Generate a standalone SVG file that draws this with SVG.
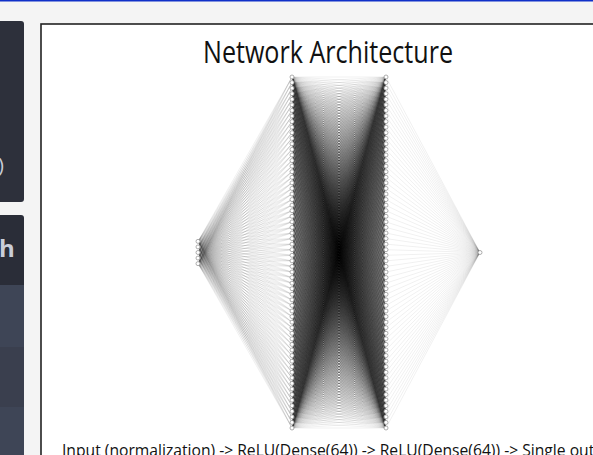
<svg xmlns="http://www.w3.org/2000/svg" xmlns:xlink="http://www.w3.org/1999/xlink" width="593" height="455" viewBox="0 0 593 455">
<style>
.ed{fill:none;stroke:#000;stroke-opacity:0.11;stroke-width:0.55;vector-effect:non-scaling-stroke}
.nd circle{fill:#fff;stroke:#999;stroke-width:0.8}
.t{font-family:"Open Sans","Noto Sans","Liberation Sans",sans-serif;fill:#111}
.side{font-family:"Open Sans","Liberation Sans",sans-serif;fill:#c9cdd8}
</style>
<defs>
<path id="fan" class="ed" d="M0 0L94 0M0 0L94 5.57M0 0L94 11.14M0 0L94 16.71M0 0L94 22.29M0 0L94 27.86M0 0L94 33.43M0 0L94 39M0 0L94 44.57M0 0L94 50.14M0 0L94 55.71M0 0L94 61.29M0 0L94 66.86M0 0L94 72.43M0 0L94 78M0 0L94 83.57M0 0L94 89.14M0 0L94 94.71M0 0L94 100.29M0 0L94 105.86M0 0L94 111.43M0 0L94 117M0 0L94 122.57M0 0L94 128.14M0 0L94 133.71M0 0L94 139.29M0 0L94 144.86M0 0L94 150.43M0 0L94 156M0 0L94 161.57M0 0L94 167.14M0 0L94 172.71M0 0L94 178.29M0 0L94 183.86M0 0L94 189.43M0 0L94 195M0 0L94 200.57M0 0L94 206.14M0 0L94 211.71M0 0L94 217.29M0 0L94 222.86M0 0L94 228.43M0 0L94 234M0 0L94 239.57M0 0L94 245.14M0 0L94 250.71M0 0L94 256.29M0 0L94 261.86M0 0L94 267.43M0 0L94 273M0 0L94 278.57M0 0L94 284.14M0 0L94 289.71M0 0L94 295.29M0 0L94 300.86M0 0L94 306.43M0 0L94 312M0 0L94 317.57M0 0L94 323.14M0 0L94 328.71M0 0L94 334.29M0 0L94 339.86M0 0L94 345.43M0 0L94 351"/>
</defs>
<rect x="0" y="0" width="593" height="455" fill="#f4f4f4"/>
<rect x="0" y="0" width="593" height="1.5" fill="#1030c8"/>
<rect x="-6" y="21" width="30" height="181" rx="3" fill="#2d303b"/>
<text class="side" x="-2" y="172" font-size="20">)</text>
<rect x="-6" y="215" width="30" height="250" rx="3" fill="#2a2d38"/>
<rect x="-6" y="285" width="30" height="62" fill="#3e4556"/>
<rect x="-6" y="347" width="30" height="60" fill="#3a3f4e"/>
<rect x="-6" y="407" width="30" height="50" fill="#3e4556"/>
<text class="side" x="-1" y="257" font-size="24" font-weight="bold" fill="#d6d9e3">h</text>
<rect x="41" y="24" width="600" height="500" fill="#fff" stroke="#222" stroke-width="1.6"/>
<text class="t" x="328" y="63" font-size="31" text-anchor="middle" textLength="250" lengthAdjust="spacingAndGlyphs">Network Architecture</text>
<g id="connectors">
<g id="input-hidden1">
<use href="#fan" transform="matrix(1,-1.7485,0,1,198,241.36)"/>
<use href="#fan" transform="matrix(1,-1.8078,0,1,198,246.93)"/>
<use href="#fan" transform="matrix(1,-1.8670,0,1,198,252.5)"/>
<use href="#fan" transform="matrix(1,-1.9263,0,1,198,258.07)"/>
<use href="#fan" transform="matrix(1,-1.9856,0,1,198,263.64)"/>
</g>
<g id="hidden1-hidden2">
<use href="#fan" transform="matrix(1,0,0,1,292,77)"/>
<use href="#fan" transform="matrix(1,-0.0593,0,1,292,82.57)"/>
<use href="#fan" transform="matrix(1,-0.1185,0,1,292,88.14)"/>
<use href="#fan" transform="matrix(1,-0.1778,0,1,292,93.71)"/>
<use href="#fan" transform="matrix(1,-0.2371,0,1,292,99.29)"/>
<use href="#fan" transform="matrix(1,-0.2964,0,1,292,104.86)"/>
<use href="#fan" transform="matrix(1,-0.3556,0,1,292,110.43)"/>
<use href="#fan" transform="matrix(1,-0.4149,0,1,292,116)"/>
<use href="#fan" transform="matrix(1,-0.4742,0,1,292,121.57)"/>
<use href="#fan" transform="matrix(1,-0.5334,0,1,292,127.14)"/>
<use href="#fan" transform="matrix(1,-0.5927,0,1,292,132.71)"/>
<use href="#fan" transform="matrix(1,-0.6520,0,1,292,138.29)"/>
<use href="#fan" transform="matrix(1,-0.7112,0,1,292,143.86)"/>
<use href="#fan" transform="matrix(1,-0.7705,0,1,292,149.43)"/>
<use href="#fan" transform="matrix(1,-0.8298,0,1,292,155)"/>
<use href="#fan" transform="matrix(1,-0.8891,0,1,292,160.57)"/>
<use href="#fan" transform="matrix(1,-0.9483,0,1,292,166.14)"/>
<use href="#fan" transform="matrix(1,-1.0076,0,1,292,171.71)"/>
<use href="#fan" transform="matrix(1,-1.0669,0,1,292,177.29)"/>
<use href="#fan" transform="matrix(1,-1.1261,0,1,292,182.86)"/>
<use href="#fan" transform="matrix(1,-1.1854,0,1,292,188.43)"/>
<use href="#fan" transform="matrix(1,-1.2447,0,1,292,194)"/>
<use href="#fan" transform="matrix(1,-1.3040,0,1,292,199.57)"/>
<use href="#fan" transform="matrix(1,-1.3632,0,1,292,205.14)"/>
<use href="#fan" transform="matrix(1,-1.4225,0,1,292,210.71)"/>
<use href="#fan" transform="matrix(1,-1.4818,0,1,292,216.29)"/>
<use href="#fan" transform="matrix(1,-1.5410,0,1,292,221.86)"/>
<use href="#fan" transform="matrix(1,-1.6003,0,1,292,227.43)"/>
<use href="#fan" transform="matrix(1,-1.6596,0,1,292,233)"/>
<use href="#fan" transform="matrix(1,-1.7188,0,1,292,238.57)"/>
<use href="#fan" transform="matrix(1,-1.7781,0,1,292,244.14)"/>
<use href="#fan" transform="matrix(1,-1.8374,0,1,292,249.71)"/>
<use href="#fan" transform="matrix(1,-1.8967,0,1,292,255.29)"/>
<use href="#fan" transform="matrix(1,-1.9559,0,1,292,260.86)"/>
<use href="#fan" transform="matrix(1,-2.0152,0,1,292,266.43)"/>
<use href="#fan" transform="matrix(1,-2.0745,0,1,292,272)"/>
<use href="#fan" transform="matrix(1,-2.1337,0,1,292,277.57)"/>
<use href="#fan" transform="matrix(1,-2.1930,0,1,292,283.14)"/>
<use href="#fan" transform="matrix(1,-2.2523,0,1,292,288.71)"/>
<use href="#fan" transform="matrix(1,-2.3115,0,1,292,294.29)"/>
<use href="#fan" transform="matrix(1,-2.3708,0,1,292,299.86)"/>
<use href="#fan" transform="matrix(1,-2.4301,0,1,292,305.43)"/>
<use href="#fan" transform="matrix(1,-2.4894,0,1,292,311)"/>
<use href="#fan" transform="matrix(1,-2.5486,0,1,292,316.57)"/>
<use href="#fan" transform="matrix(1,-2.6079,0,1,292,322.14)"/>
<use href="#fan" transform="matrix(1,-2.6672,0,1,292,327.71)"/>
<use href="#fan" transform="matrix(1,-2.7264,0,1,292,333.29)"/>
<use href="#fan" transform="matrix(1,-2.7857,0,1,292,338.86)"/>
<use href="#fan" transform="matrix(1,-2.8450,0,1,292,344.43)"/>
<use href="#fan" transform="matrix(1,-2.9043,0,1,292,350)"/>
<use href="#fan" transform="matrix(1,-2.9635,0,1,292,355.57)"/>
<use href="#fan" transform="matrix(1,-3.0228,0,1,292,361.14)"/>
<use href="#fan" transform="matrix(1,-3.0821,0,1,292,366.71)"/>
<use href="#fan" transform="matrix(1,-3.1413,0,1,292,372.29)"/>
<use href="#fan" transform="matrix(1,-3.2006,0,1,292,377.86)"/>
<use href="#fan" transform="matrix(1,-3.2599,0,1,292,383.43)"/>
<use href="#fan" transform="matrix(1,-3.3191,0,1,292,389)"/>
<use href="#fan" transform="matrix(1,-3.3784,0,1,292,394.57)"/>
<use href="#fan" transform="matrix(1,-3.4377,0,1,292,400.14)"/>
<use href="#fan" transform="matrix(1,-3.4970,0,1,292,405.71)"/>
<use href="#fan" transform="matrix(1,-3.5562,0,1,292,411.29)"/>
<use href="#fan" transform="matrix(1,-3.6155,0,1,292,416.86)"/>
<use href="#fan" transform="matrix(1,-3.6748,0,1,292,422.43)"/>
<use href="#fan" transform="matrix(1,-3.7340,0,1,292,428)"/>
</g>
<g id="hidden2-output">
<use href="#fan" transform="matrix(-1,-1.8670,0,1,480,252.5)"/>
</g>
</g>
<g id="input-layer" class="nd">
<g id="in0"><circle cx="198" cy="241.36" r="2"/></g>
<g id="in1"><circle cx="198" cy="246.93" r="2"/></g>
<g id="in2"><circle cx="198" cy="252.5" r="2"/></g>
<g id="in3"><circle cx="198" cy="258.07" r="2"/></g>
<g id="in4"><circle cx="198" cy="263.64" r="2"/></g>
</g>
<g id="hidden1-layer" class="nd">
<g id="a0"><circle cx="292" cy="77" r="2"/></g>
<g id="a1"><circle cx="292" cy="82.57" r="2"/></g>
<g id="a2"><circle cx="292" cy="88.14" r="2"/></g>
<g id="a3"><circle cx="292" cy="93.71" r="2"/></g>
<g id="a4"><circle cx="292" cy="99.29" r="2"/></g>
<g id="a5"><circle cx="292" cy="104.86" r="2"/></g>
<g id="a6"><circle cx="292" cy="110.43" r="2"/></g>
<g id="a7"><circle cx="292" cy="116" r="2"/></g>
<g id="a8"><circle cx="292" cy="121.57" r="2"/></g>
<g id="a9"><circle cx="292" cy="127.14" r="2"/></g>
<g id="a10"><circle cx="292" cy="132.71" r="2"/></g>
<g id="a11"><circle cx="292" cy="138.29" r="2"/></g>
<g id="a12"><circle cx="292" cy="143.86" r="2"/></g>
<g id="a13"><circle cx="292" cy="149.43" r="2"/></g>
<g id="a14"><circle cx="292" cy="155" r="2"/></g>
<g id="a15"><circle cx="292" cy="160.57" r="2"/></g>
<g id="a16"><circle cx="292" cy="166.14" r="2"/></g>
<g id="a17"><circle cx="292" cy="171.71" r="2"/></g>
<g id="a18"><circle cx="292" cy="177.29" r="2"/></g>
<g id="a19"><circle cx="292" cy="182.86" r="2"/></g>
<g id="a20"><circle cx="292" cy="188.43" r="2"/></g>
<g id="a21"><circle cx="292" cy="194" r="2"/></g>
<g id="a22"><circle cx="292" cy="199.57" r="2"/></g>
<g id="a23"><circle cx="292" cy="205.14" r="2"/></g>
<g id="a24"><circle cx="292" cy="210.71" r="2"/></g>
<g id="a25"><circle cx="292" cy="216.29" r="2"/></g>
<g id="a26"><circle cx="292" cy="221.86" r="2"/></g>
<g id="a27"><circle cx="292" cy="227.43" r="2"/></g>
<g id="a28"><circle cx="292" cy="233" r="2"/></g>
<g id="a29"><circle cx="292" cy="238.57" r="2"/></g>
<g id="a30"><circle cx="292" cy="244.14" r="2"/></g>
<g id="a31"><circle cx="292" cy="249.71" r="2"/></g>
<g id="a32"><circle cx="292" cy="255.29" r="2"/></g>
<g id="a33"><circle cx="292" cy="260.86" r="2"/></g>
<g id="a34"><circle cx="292" cy="266.43" r="2"/></g>
<g id="a35"><circle cx="292" cy="272" r="2"/></g>
<g id="a36"><circle cx="292" cy="277.57" r="2"/></g>
<g id="a37"><circle cx="292" cy="283.14" r="2"/></g>
<g id="a38"><circle cx="292" cy="288.71" r="2"/></g>
<g id="a39"><circle cx="292" cy="294.29" r="2"/></g>
<g id="a40"><circle cx="292" cy="299.86" r="2"/></g>
<g id="a41"><circle cx="292" cy="305.43" r="2"/></g>
<g id="a42"><circle cx="292" cy="311" r="2"/></g>
<g id="a43"><circle cx="292" cy="316.57" r="2"/></g>
<g id="a44"><circle cx="292" cy="322.14" r="2"/></g>
<g id="a45"><circle cx="292" cy="327.71" r="2"/></g>
<g id="a46"><circle cx="292" cy="333.29" r="2"/></g>
<g id="a47"><circle cx="292" cy="338.86" r="2"/></g>
<g id="a48"><circle cx="292" cy="344.43" r="2"/></g>
<g id="a49"><circle cx="292" cy="350" r="2"/></g>
<g id="a50"><circle cx="292" cy="355.57" r="2"/></g>
<g id="a51"><circle cx="292" cy="361.14" r="2"/></g>
<g id="a52"><circle cx="292" cy="366.71" r="2"/></g>
<g id="a53"><circle cx="292" cy="372.29" r="2"/></g>
<g id="a54"><circle cx="292" cy="377.86" r="2"/></g>
<g id="a55"><circle cx="292" cy="383.43" r="2"/></g>
<g id="a56"><circle cx="292" cy="389" r="2"/></g>
<g id="a57"><circle cx="292" cy="394.57" r="2"/></g>
<g id="a58"><circle cx="292" cy="400.14" r="2"/></g>
<g id="a59"><circle cx="292" cy="405.71" r="2"/></g>
<g id="a60"><circle cx="292" cy="411.29" r="2"/></g>
<g id="a61"><circle cx="292" cy="416.86" r="2"/></g>
<g id="a62"><circle cx="292" cy="422.43" r="2"/></g>
<g id="a63"><circle cx="292" cy="428" r="2"/></g>
</g>
<g id="hidden2-layer" class="nd">
<g id="b0"><circle cx="386" cy="77" r="2"/></g>
<g id="b1"><circle cx="386" cy="82.57" r="2"/></g>
<g id="b2"><circle cx="386" cy="88.14" r="2"/></g>
<g id="b3"><circle cx="386" cy="93.71" r="2"/></g>
<g id="b4"><circle cx="386" cy="99.29" r="2"/></g>
<g id="b5"><circle cx="386" cy="104.86" r="2"/></g>
<g id="b6"><circle cx="386" cy="110.43" r="2"/></g>
<g id="b7"><circle cx="386" cy="116" r="2"/></g>
<g id="b8"><circle cx="386" cy="121.57" r="2"/></g>
<g id="b9"><circle cx="386" cy="127.14" r="2"/></g>
<g id="b10"><circle cx="386" cy="132.71" r="2"/></g>
<g id="b11"><circle cx="386" cy="138.29" r="2"/></g>
<g id="b12"><circle cx="386" cy="143.86" r="2"/></g>
<g id="b13"><circle cx="386" cy="149.43" r="2"/></g>
<g id="b14"><circle cx="386" cy="155" r="2"/></g>
<g id="b15"><circle cx="386" cy="160.57" r="2"/></g>
<g id="b16"><circle cx="386" cy="166.14" r="2"/></g>
<g id="b17"><circle cx="386" cy="171.71" r="2"/></g>
<g id="b18"><circle cx="386" cy="177.29" r="2"/></g>
<g id="b19"><circle cx="386" cy="182.86" r="2"/></g>
<g id="b20"><circle cx="386" cy="188.43" r="2"/></g>
<g id="b21"><circle cx="386" cy="194" r="2"/></g>
<g id="b22"><circle cx="386" cy="199.57" r="2"/></g>
<g id="b23"><circle cx="386" cy="205.14" r="2"/></g>
<g id="b24"><circle cx="386" cy="210.71" r="2"/></g>
<g id="b25"><circle cx="386" cy="216.29" r="2"/></g>
<g id="b26"><circle cx="386" cy="221.86" r="2"/></g>
<g id="b27"><circle cx="386" cy="227.43" r="2"/></g>
<g id="b28"><circle cx="386" cy="233" r="2"/></g>
<g id="b29"><circle cx="386" cy="238.57" r="2"/></g>
<g id="b30"><circle cx="386" cy="244.14" r="2"/></g>
<g id="b31"><circle cx="386" cy="249.71" r="2"/></g>
<g id="b32"><circle cx="386" cy="255.29" r="2"/></g>
<g id="b33"><circle cx="386" cy="260.86" r="2"/></g>
<g id="b34"><circle cx="386" cy="266.43" r="2"/></g>
<g id="b35"><circle cx="386" cy="272" r="2"/></g>
<g id="b36"><circle cx="386" cy="277.57" r="2"/></g>
<g id="b37"><circle cx="386" cy="283.14" r="2"/></g>
<g id="b38"><circle cx="386" cy="288.71" r="2"/></g>
<g id="b39"><circle cx="386" cy="294.29" r="2"/></g>
<g id="b40"><circle cx="386" cy="299.86" r="2"/></g>
<g id="b41"><circle cx="386" cy="305.43" r="2"/></g>
<g id="b42"><circle cx="386" cy="311" r="2"/></g>
<g id="b43"><circle cx="386" cy="316.57" r="2"/></g>
<g id="b44"><circle cx="386" cy="322.14" r="2"/></g>
<g id="b45"><circle cx="386" cy="327.71" r="2"/></g>
<g id="b46"><circle cx="386" cy="333.29" r="2"/></g>
<g id="b47"><circle cx="386" cy="338.86" r="2"/></g>
<g id="b48"><circle cx="386" cy="344.43" r="2"/></g>
<g id="b49"><circle cx="386" cy="350" r="2"/></g>
<g id="b50"><circle cx="386" cy="355.57" r="2"/></g>
<g id="b51"><circle cx="386" cy="361.14" r="2"/></g>
<g id="b52"><circle cx="386" cy="366.71" r="2"/></g>
<g id="b53"><circle cx="386" cy="372.29" r="2"/></g>
<g id="b54"><circle cx="386" cy="377.86" r="2"/></g>
<g id="b55"><circle cx="386" cy="383.43" r="2"/></g>
<g id="b56"><circle cx="386" cy="389" r="2"/></g>
<g id="b57"><circle cx="386" cy="394.57" r="2"/></g>
<g id="b58"><circle cx="386" cy="400.14" r="2"/></g>
<g id="b59"><circle cx="386" cy="405.71" r="2"/></g>
<g id="b60"><circle cx="386" cy="411.29" r="2"/></g>
<g id="b61"><circle cx="386" cy="416.86" r="2"/></g>
<g id="b62"><circle cx="386" cy="422.43" r="2"/></g>
<g id="b63"><circle cx="386" cy="428" r="2"/></g>
</g>
<g id="output-layer" class="nd">
<g id="out0"><circle cx="480" cy="252.5" r="2"/></g>
</g>
<text class="t" x="62" y="456" font-size="16" textLength="557" lengthAdjust="spacingAndGlyphs">Input (normalization) -&gt; ReLU(Dense(64)) -&gt; ReLU(Dense(64)) -&gt; Single output</text>
</svg>
